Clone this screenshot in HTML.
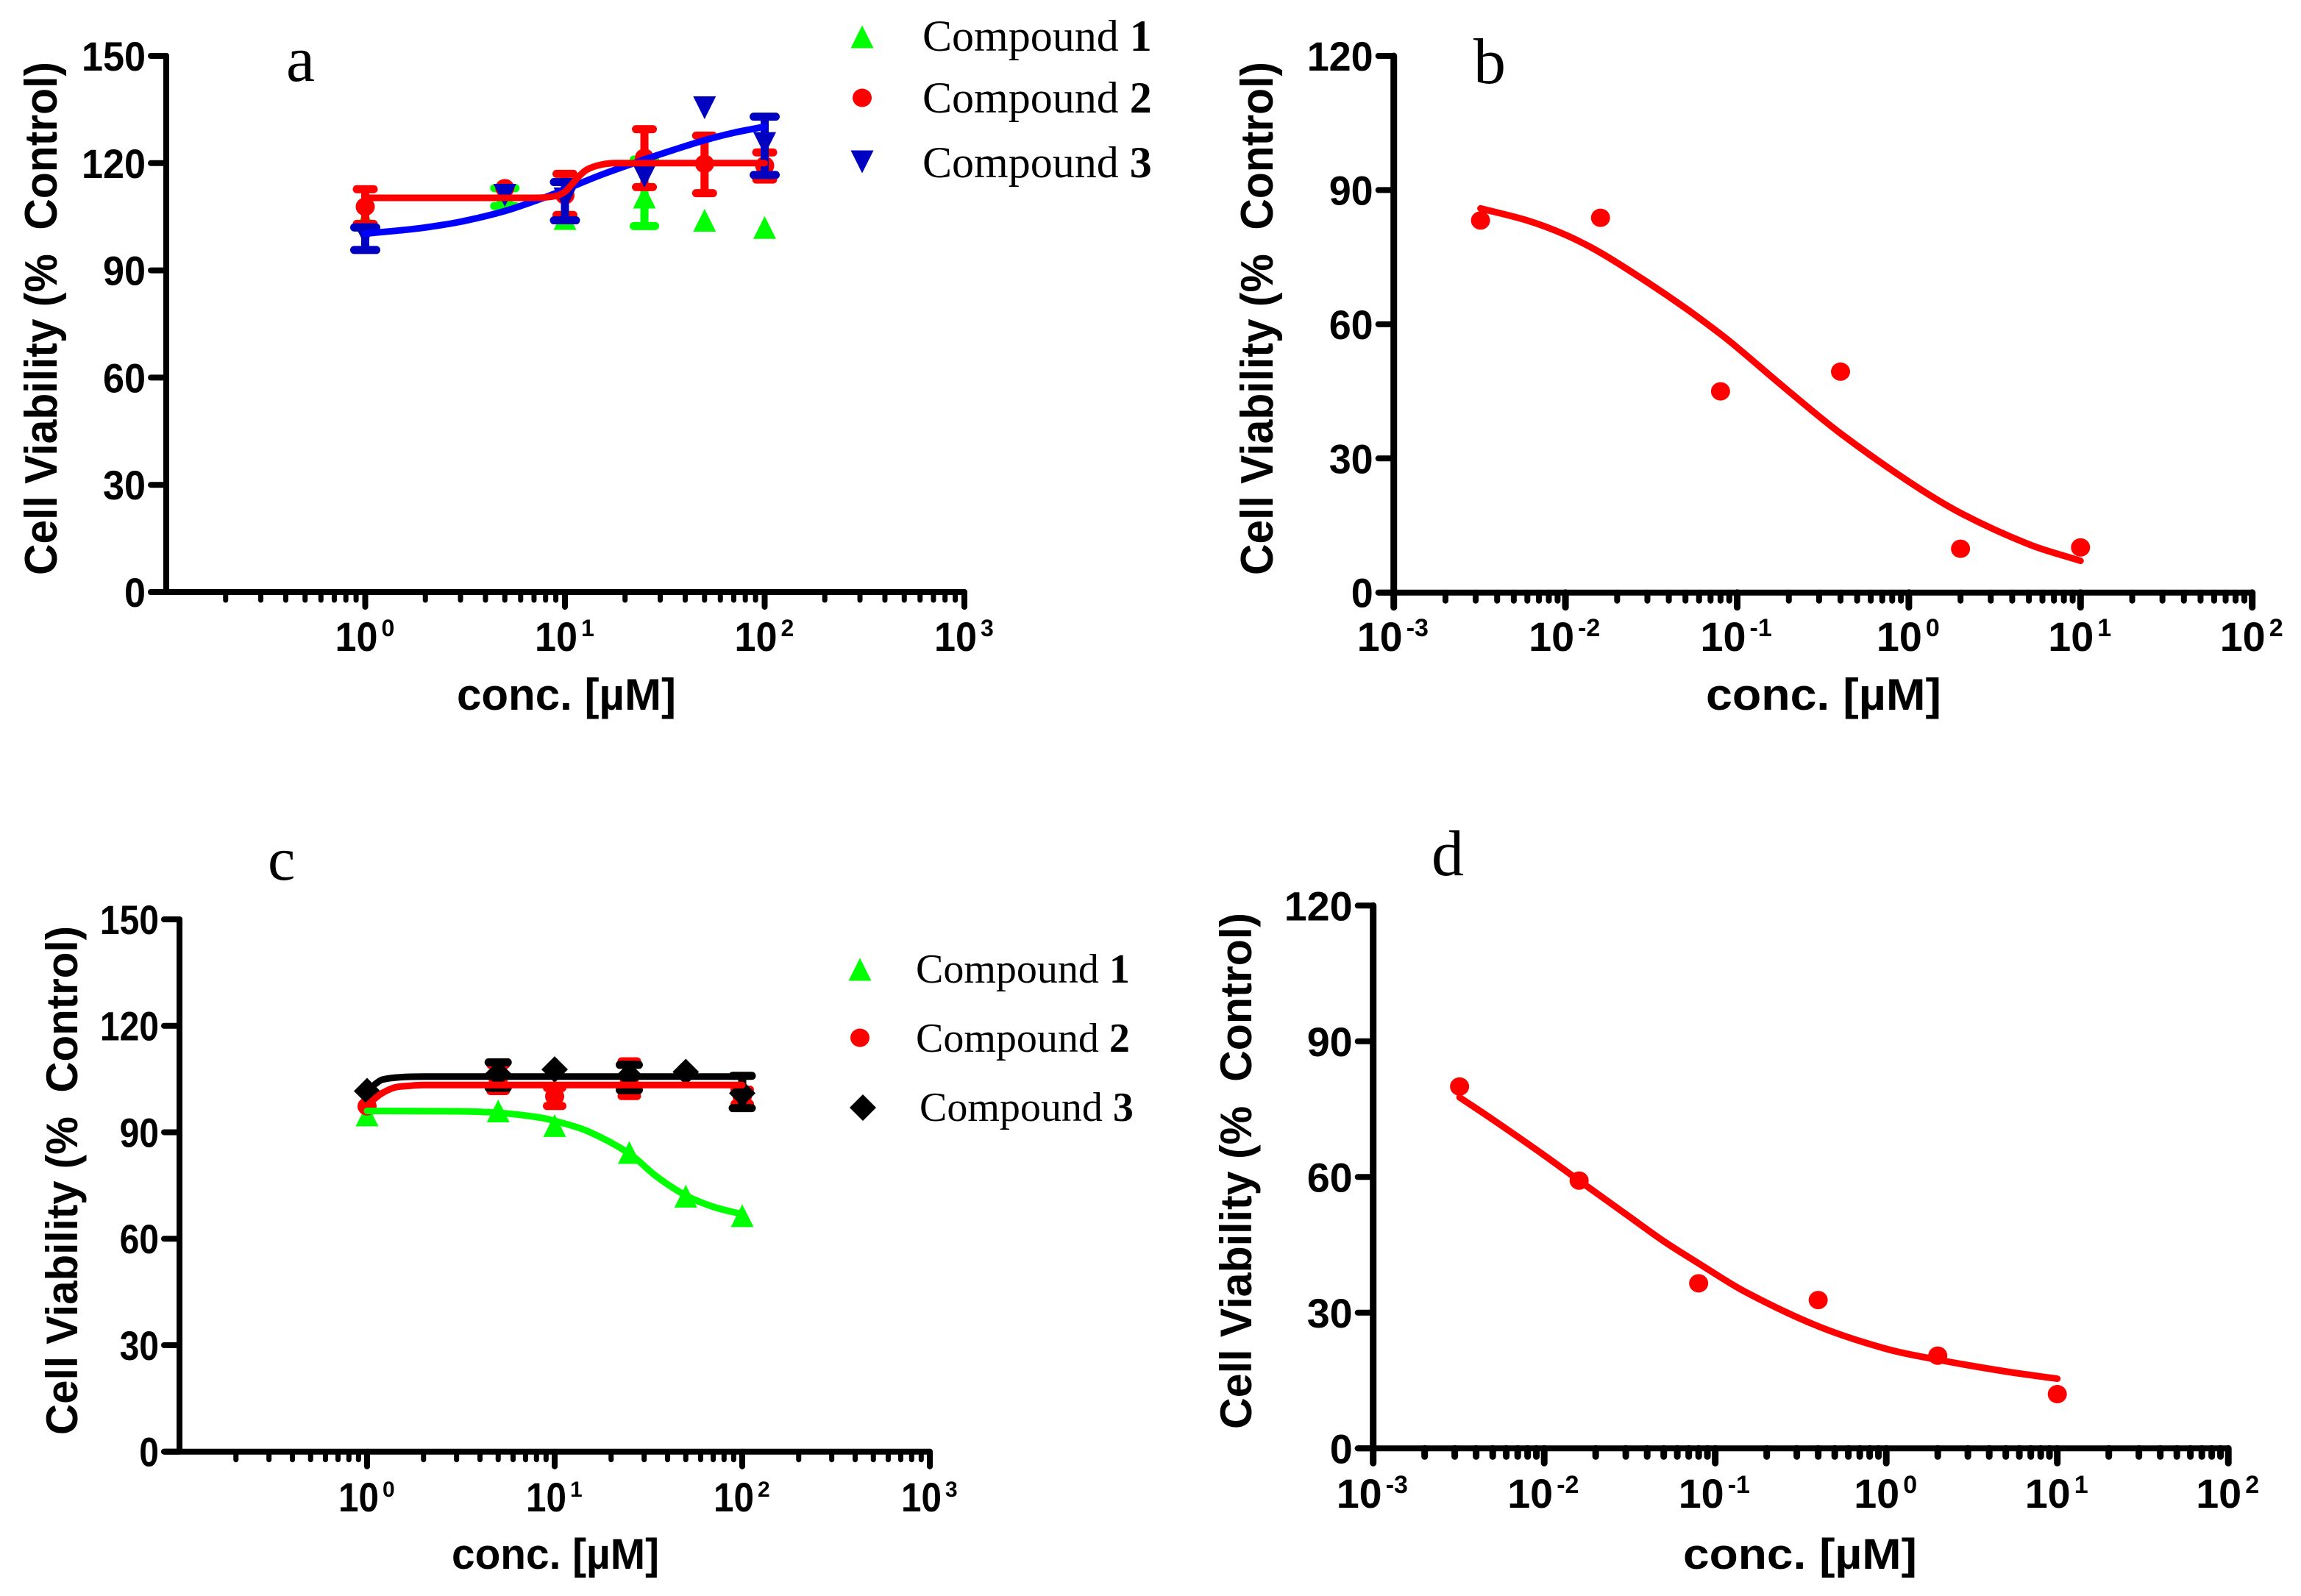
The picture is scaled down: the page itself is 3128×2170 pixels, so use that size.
<!DOCTYPE html>
<html lang="en">
<head>
<meta charset="utf-8">
<title>Cell viability dose-response panels</title>
<style>
html,body{margin:0;padding:0;background:#fff;}
svg{display:block;}
.tick-text{font-family:"Liberation Sans",Arial,sans-serif;font-weight:700;fill:#000;}
.axis-title{font-family:"Liberation Sans",Arial,sans-serif;font-weight:700;fill:#000;white-space:pre;}
.serif{font-family:"Liberation Serif","Times New Roman",serif;fill:#000;}
</style>
</head>
<body>
<svg id="figure" xmlns="http://www.w3.org/2000/svg" width="3128" height="2170" viewBox="0 0 3128 2170">
  <rect x="0" y="0" width="3128" height="2170" fill="#ffffff"/>

  <g id="panel-a">
    <text class="serif" x="389" y="110" font-size="88">a</text>
    <text class="axis-title" transform="translate(77 782) rotate(-90)" font-size="62" textLength="698" lengthAdjust="spacingAndGlyphs" xml:space="preserve">Cell Viability (%  Control)</text>
    <text class="axis-title" x="621" y="965" font-size="60" textLength="298" lengthAdjust="spacingAndGlyphs">conc. [µM]</text>
    <g>
      <text class="serif" x="1254" y="69" font-size="60">Compound <tspan font-weight="700">1</tspan></text>
      <text class="serif" x="1254" y="153" font-size="60">Compound <tspan font-weight="700">2</tspan></text>
      <text class="serif" x="1254" y="241" font-size="60">Compound <tspan font-weight="700">3</tspan></text>
    </g>
  </g>

  <g id="panel-b">
    <text class="serif" x="2003" y="113" font-size="88">b</text>
    <text class="axis-title" transform="translate(1730 782) rotate(-90)" font-size="62" textLength="698" lengthAdjust="spacingAndGlyphs" xml:space="preserve">Cell Viability (%  Control)</text>
    <text class="axis-title" x="2319" y="965" font-size="60" textLength="320" lengthAdjust="spacingAndGlyphs">conc. [µM]</text>
  </g>

  <g id="panel-c">
    <text class="serif" x="364" y="1196" font-size="84">c</text>
    <text class="axis-title" transform="translate(105 1951) rotate(-90)" font-size="60" textLength="692" lengthAdjust="spacingAndGlyphs" xml:space="preserve">Cell Viability (%  Control)</text>
    <text class="axis-title" x="614" y="2133" font-size="58" textLength="282" lengthAdjust="spacingAndGlyphs">conc. [µM]</text>
    <g>
      <text class="serif" x="1245" y="1336" font-size="56">Compound <tspan font-weight="700">1</tspan></text>
      <text class="serif" x="1245" y="1430" font-size="56">Compound <tspan font-weight="700">2</tspan></text>
      <text class="serif" x="1250" y="1524" font-size="56">Compound <tspan font-weight="700">3</tspan></text>
    </g>
  </g>

  <g id="panel-d">
    <text class="serif" x="1946" y="1190" font-size="88">d</text>
    <text class="axis-title" transform="translate(1701 1943) rotate(-90)" font-size="60" textLength="702" lengthAdjust="spacingAndGlyphs" xml:space="preserve">Cell Viability (%  Control)</text>
    <text class="axis-title" x="2288" y="2133" font-size="58" textLength="318" lengthAdjust="spacingAndGlyphs">conc. [µM]</text>
  </g>
</svg>

<script>
/* ---------- shared tick labels ---------- */
const yTicksAC = [0, 30, 60, 90, 120, 150];
const yTicksBD = [0, 30, 60, 90, 120];
const xDecadesAC = [0, 1, 2, 3];
const xDecadesBD = [-3, -2, -1, 0, 1, 2];

/* ---------- panel a data ---------- */
const concA = [1, 5, 10, 25, 50, 100];
const a1Values = [104, 110.5, 104.5, 110.5, 104, 102];
const a1Upper = [null, 113, null, 121, null, null];
const a1Lower = [null, 108, null, 102.4, null, null];
const a2Values = [107.8, 113, 111, 121.5, 119.8, 119.3];
const a2Upper = [112.7, null, 117, 129.5, 127.7, 123];
const a2Lower = [103, null, 105.5, 113.3, 111.6, 115.4];
const a3Values = [100, 111, 110, 116.3, 135.5, 125.5];
const a3Upper = [102, null, 114.7, null, null, 133];
const a3Lower = [95.7, null, 104, null, null, 116.7];
const a3CurveX = [1, 1.5, 2, 3, 5, 8, 10, 15, 25, 35, 50, 70, 100];
const a3CurveY = [100.3, 101.2, 102, 103.6, 106.6, 110.5, 112.6, 116.6, 121, 123.7, 126.4, 128.5, 130.2];
const a2CurveX = [1, 5, 7, 9, 10, 11, 12, 13, 15, 18, 25, 100];
const a2CurveY = [110.3, 110.3, 110.3, 110.8, 112, 114.5, 116.8, 118.3, 119.5, 120, 120, 120];

/* ---------- panel b data ---------- */
const concBD = [0.0032, 0.016, 0.08, 0.4, 2, 10];
const bValues = [83.2, 83.8, 45, 49.4, 9.8, 10.1];
const bCurveX = [0.0032, 0.006, 0.01, 0.016, 0.03, 0.05, 0.08, 0.1, 0.2, 0.4, 1, 2, 5, 10];
const bCurveY = [85.9, 83.2, 80, 76, 69.4, 63.6, 57.8, 54.8, 45, 35.6, 24.8, 17.8, 10.8, 7.1];

/* ---------- panel c data ---------- */
const concC = [1, 5, 10, 25, 50, 100];
const c1Values = [94.9, 96, 91.9, 84.3, 72, 66.5];
const c2Values = [97.3, 105, 100.1, 105, 107, 100];
const c2Upper = [null, 109, 102.5, 110, null, 102];
const c2Lower = [null, 101.6, 97.4, 100.2, null, 98];
const c3Values = [101.6, 106.5, 107.7, 106, 107, 101];
const c3Upper = [null, 109.7, null, 109, null, 105.9];
const c3Lower = [null, 102.5, null, 101.9, null, 96.8];
const c1CurveX = [1, 3, 5, 8, 10, 15, 25, 35, 50, 70, 100];
const c1CurveY = [96, 95.9, 95.5, 94.3, 93.2, 90.3, 84, 77.5, 72.2, 69, 66.9];
const c2CurveX = [1, 1.1, 1.2, 1.4, 1.7, 2, 10, 100];
const c2CurveY = [97.5, 99.5, 101, 102.6, 103.1, 103.3, 103.3, 103.3];
const c3CurveX = [1.1, 1.2, 1.5, 2, 10, 100];
const c3CurveY = [103.5, 104.8, 105.5, 105.7, 105.7, 105.7];

/* ---------- panel d data ---------- */
const dValues = [80, 59.2, 36.5, 32.8, 20.5, 12];
const dCurveX = [0.0032, 0.005, 0.01, 0.016, 0.03, 0.05, 0.08, 0.15, 0.4, 1, 2, 5, 10];
const dCurveY = [77.6, 72.7, 64.8, 59.2, 51.8, 45.8, 40.9, 34.6, 27, 22, 19.6, 17, 15.4];

/* ---------- drawing helpers ---------- */
const NS = 'http://www.w3.org/2000/svg';
function make(parent, tag, attrs) {
  const el = document.createElementNS(NS, tag);
  for (const k in attrs) el.setAttribute(k, attrs[k]);
  parent.appendChild(el);
  return el;
}
function makeScales(cfg) {
  return {
    x: v => cfg.x0 + (Math.log10(v) - cfg.logMin) * cfg.decade,
    y: v => cfg.y0 - v * (cfg.y0 - cfg.yTop) / cfg.yMax
  };
}
function markerPath(shape, cx, cy, w, h) {
  if (shape === 'up') return `M${cx} ${cy - h / 2}L${cx + w / 2} ${cy + h / 2}L${cx - w / 2} ${cy + h / 2}Z`;
  if (shape === 'down') return `M${cx} ${cy + h / 2}L${cx + w / 2} ${cy - h / 2}L${cx - w / 2} ${cy - h / 2}Z`;
  return `M${cx} ${cy - h / 2}L${cx + w / 2} ${cy}L${cx} ${cy + h / 2}L${cx - w / 2} ${cy}Z`;
}
function drawMarker(parent, shape, cx, cy, color, name) {
  let el;
  if (shape === 'circle') {
    el = make(parent, 'ellipse', {cx: cx, cy: cy, rx: 13, ry: 12.5, fill: color});
  } else if (shape === 'diamond') {
    el = make(parent, 'path', {d: markerPath('diamond', cx, cy, 36, 36), fill: color});
  } else {
    el = make(parent, 'path', {d: markerPath(shape, cx, cy, 31, 31), fill: color});
  }
  
  
  return el;
}
/* monotone cubic through the read points, parameterised on pixel x */
function smoothPath(pts) {
  const n = pts.length;
  const seg = [];
  for (let i = 0; i < n - 1; i++) seg.push((pts[i + 1][1] - pts[i][1]) / (pts[i + 1][0] - pts[i][0]));
  const m = pts.map((p, i) => {
    if (i === 0) return seg[0];
    if (i === n - 1) return seg[n - 2];
    if (seg[i - 1] * seg[i] <= 0) return 0;
    return (pts[i + 1][1] - pts[i - 1][1]) / (pts[i + 1][0] - pts[i - 1][0]);
  });
  let d = `M${pts[0][0]} ${pts[0][1]}`;
  for (let i = 0; i < n - 1; i++) {
    const dx = (pts[i + 1][0] - pts[i][0]) / 3;
    d += `C${pts[i][0] + dx} ${pts[i][1] + m[i] * dx} ${pts[i + 1][0] - dx} ${pts[i + 1][1] - m[i + 1] * dx} ${pts[i + 1][0]} ${pts[i + 1][1]}`;
  }
  return d;
}
function drawCurve(parent, s, xs, ys, color, name) {
  const pts = xs.map((v, i) => [s.x(v), s.y(ys[i])]);
  const el = make(parent, 'path', {d: smoothPath(pts), fill: 'none', stroke: color, 'stroke-width': 9, 'stroke-linecap': 'round', 'stroke-linejoin': 'round'});
  
  
}
function drawSeries(parent, s, xs, values, shape, color, name) {
  values.forEach((v, i) => {
    drawMarker(parent, shape, s.x(xs[i]), s.y(v), color, name + '-point');
  });
}
function drawErrors(parent, s, xs, upper, lower, color, capW, name) {
  xs.forEach((v, i) => {
    if (upper[i] === null && lower[i] === null) return;
    const px = s.x(v), up = s.y(upper[i]), lo = s.y(lower[i]);
    const g = make(parent, 'g', {stroke: color, fill: 'none', 'stroke-linecap': 'round'});
    
    
    make(g, 'line', {x1: px, x2: px, y1: up, y2: lo, 'stroke-width': 11, 'stroke-linecap': 'butt'});
    make(g, 'line', {x1: px - capW / 2 + 5.5, x2: px + capW / 2 - 5.5, y1: up, y2: up, 'stroke-width': 11});
    make(g, 'line', {x1: px - capW / 2 + 5.5, x2: px + capW / 2 - 5.5, y1: lo, y2: lo, 'stroke-width': 11});
  });
}
function drawAxes(parent, cfg, s, yTicks, decades) {
  const xEnd = s.x(Math.pow(10, decades[decades.length - 1]));
  const g = make(parent, 'g', {stroke: '#000', fill: 'none', 'stroke-linecap': 'round'});
  
  

  const yLine = make(g, 'line', {x1: cfg.axisX, x2: cfg.axisX, y1: cfg.yTop, y2: cfg.y0, 'stroke-width': cfg.axisW});
  
  

  const xLine = make(g, 'line', {x1: cfg.axisX - 21, x2: xEnd, y1: cfg.y0, y2: cfg.y0, 'stroke-width': 8});
  
  

  yTicks.forEach(t => {
    const py = s.y(t);
    const tick = make(g, 'line', {x1: cfg.axisX - 21, x2: cfg.axisX, y1: py, y2: py, 'stroke-width': 8});
    
    
    const text = String(t);
    const label = make(parent, 'text', {x: cfg.axisX - 28, y: py + 20, 'text-anchor': 'end', 'font-size': 56, class: 'tick-text', textLength: text.length * cfg.digitW, lengthAdjust: 'spacingAndGlyphs'});
    label.textContent = text;
    
    
  });

  for (let dec = cfg.logMin; dec < decades[decades.length - 1]; dec++) {
    for (let m = 2; m <= 9; m++) {
      const px = s.x(m * Math.pow(10, dec));
      const minor = make(g, 'line', {x1: px, x2: px, y1: cfg.y0, y2: cfg.y0 + 11, 'stroke-width': cfg.minorW});
      
      
    }
  }
  decades.forEach(d => {
    const px = s.x(Math.pow(10, d));
    const major = make(g, 'line', {x1: px, x2: px, y1: cfg.y0, y2: cfg.y0 + 20, 'stroke-width': cfg.axisW});
    
    
    const neg = d < 0;
    const base = make(parent, 'text', {x: px - (neg ? cfg.negLeft : cfg.posLeft), y: cfg.labelY, 'font-size': 56, class: 'tick-text', textLength: cfg.tenW, lengthAdjust: 'spacingAndGlyphs'});
    base.textContent = '10';
    
    
    const sup = make(parent, 'text', {x: px - (neg ? cfg.negLeft : cfg.posLeft) + cfg.tenW + 5, y: cfg.labelY - 20, 'font-size': cfg.supSize, class: 'tick-text'});
    sup.textContent = String(d);
    
    
  });
}

/* ---------- panel a ---------- */
const cfgA = {name: 'panel-a', x0: 225, axisX: 226, axisW: 8, minorW: 7, digitW: 29, logMin: -1, decade: 271.5, y0: 805, yTop: 76, yMax: 150, labelY: 885, posLeft: 41, negLeft: 47, tenW: 58, supSize: 32};
const sA = makeScales(cfgA);
const gA = document.getElementById('panel-a');
drawAxes(gA, cfgA, sA, yTicksAC, xDecadesAC);
drawErrors(gA, sA, concA, a1Upper, a1Lower, '#00ff00', 40, 'compound-1');
drawSeries(gA, sA, concA, a1Values, 'up', '#00ff00', 'compound-1');
drawErrors(gA, sA, concA, a2Upper, a2Lower, '#ff0000', 34, 'compound-2');
drawSeries(gA, sA, concA, a2Values, 'circle', '#ff0000', 'compound-2');
drawErrors(gA, sA, concA, a3Upper, a3Lower, '#0000c0', 41, 'compound-3');
drawSeries(gA, sA, concA, a3Values, 'down', '#0000c0', 'compound-3');
drawCurve(gA, sA, a3CurveX, a3CurveY, '#0000ff', 'compound-3-fit-curve');
drawCurve(gA, sA, a2CurveX, a2CurveY, '#ff0000', 'compound-2-fit-curve');
drawMarker(gA, 'up', 1172, 50, '#00ff00', 'legend-marker-compound-1');
drawMarker(gA, 'circle', 1172, 133, '#ff0000', 'legend-marker-compound-2');
drawMarker(gA, 'down', 1172, 220, '#0000c0', 'legend-marker-compound-3');

/* ---------- panel b ---------- */
const cfgB = {name: 'panel-b', x0: 1894.7, axisX: 1894.7, axisW: 9, minorW: 8, digitW: 30, logMin: -3, decade: 233.4, y0: 805.7, yTop: 76, yMax: 120, labelY: 885, posLeft: 44, negLeft: 50, tenW: 62, supSize: 34};
const sB = makeScales(cfgB);
const gB = document.getElementById('panel-b');
drawAxes(gB, cfgB, sB, yTicksBD, xDecadesBD);
drawSeries(gB, sB, concBD, bValues, 'circle', '#ff0000', 'compound-data');
drawCurve(gB, sB, bCurveX, bCurveY, '#ff0000', 'fit-curve');

/* ---------- panel c ---------- */
const cfgC = {name: 'panel-c', x0: 244, axisX: 244, axisW: 8, minorW: 7, digitW: 26.7, logMin: -1, decade: 255, y0: 1973.7, yTop: 1250, yMax: 150, labelY: 2055, posLeft: 39, negLeft: 45, tenW: 55, supSize: 30};
const sC = makeScales(cfgC);
const gC = document.getElementById('panel-c');
drawAxes(gC, cfgC, sC, yTicksAC, xDecadesAC);
drawSeries(gC, sC, concC, c1Values, 'up', '#00ff00', 'compound-1');
drawErrors(gC, sC, concC, c2Upper, c2Lower, '#ff0000', 32, 'compound-2');
drawSeries(gC, sC, concC, c2Values, 'circle', '#ff0000', 'compound-2');
drawErrors(gC, sC, concC, c3Upper, c3Lower, '#000000', 37, 'compound-3');
drawSeries(gC, sC, concC, c3Values, 'diamond', '#000000', 'compound-3');
drawCurve(gC, sC, c3CurveX, c3CurveY, '#000000', 'compound-3-fit-curve');
drawCurve(gC, sC, c2CurveX, c2CurveY, '#ff0000', 'compound-2-fit-curve');
drawCurve(gC, sC, c1CurveX, c1CurveY, '#00ff00', 'compound-1-fit-curve');
drawMarker(gC, 'up', 1169, 1318, '#00ff00', 'legend-marker-compound-1');
drawMarker(gC, 'circle', 1169, 1411, '#ff0000', 'legend-marker-compound-2');
drawMarker(gC, 'diamond', 1173, 1506, '#000000', 'legend-marker-compound-3');

/* ---------- panel d ---------- */
const cfgD = {name: 'panel-d', x0: 1866.7, axisX: 1866.7, axisW: 9, minorW: 9, digitW: 31, logMin: -3, decade: 232.5, y0: 1969.3, yTop: 1231.3, yMax: 120, labelY: 2050, posLeft: 44, negLeft: 50, tenW: 62, supSize: 34};
const sD = makeScales(cfgD);
const gD = document.getElementById('panel-d');
drawAxes(gD, cfgD, sD, yTicksBD, xDecadesBD);
drawSeries(gD, sD, concBD, dValues, 'circle', '#ff0000', 'compound-data');
drawCurve(gD, sD, dCurveX, dCurveY, '#ff0000', 'fit-curve');
</script>
</body>
</html>
